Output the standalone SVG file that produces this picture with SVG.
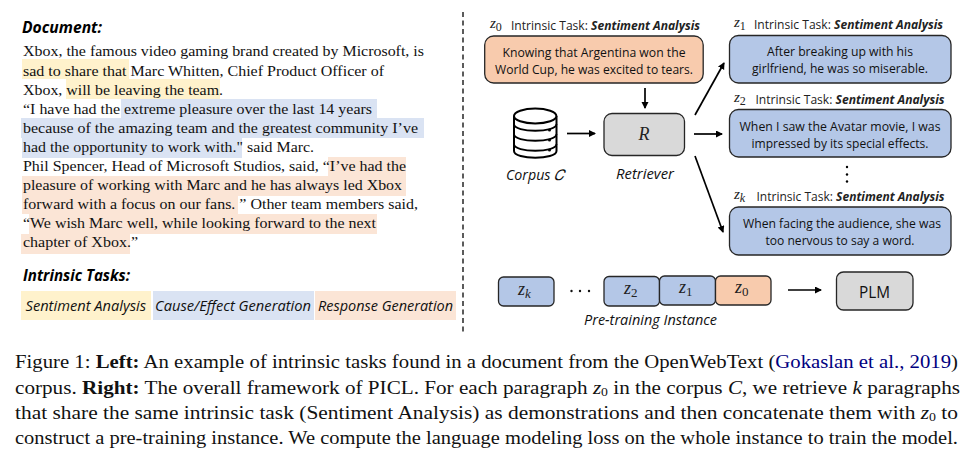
<svg xmlns="http://www.w3.org/2000/svg" width="972" height="460" viewBox="0 0 972 460">
<style>
.bg{fill:#fff}
.y{fill:#fff2cc}.b{fill:#dae3f3}.o{fill:#fbe5d6}
.doc{font:15.2px "Liberation Serif",serif;fill:#111}
.cap{font:18.5px "Liberation Serif",serif;fill:#111}
.h{font:italic 700 15.5px "Open Sans",sans-serif;fill:#000}
.task{font:italic 14px "Open Sans",sans-serif;fill:#111}
.lab{font:13px "Open Sans",sans-serif;fill:#222}
.body{font:13px "Open Sans",sans-serif;fill:#111;text-anchor:middle}
.it{font:italic 14.5px "Open Sans",sans-serif;fill:#111}
.m{font-family:"Liberation Serif",serif;font-style:italic;fill:#222}
.box{stroke:#262626;stroke-width:1.3}
.fo{fill:#f8cbad}.fb{fill:#b4c7e7}.fg{fill:#d9d9d9}
.arr{stroke:#000;stroke-width:1.7;fill:none;marker-end:url(#ah)}
.db{fill:#fff;stroke:#000;stroke-width:2}
</style>
<defs><marker id="ah" markerWidth="8" markerHeight="8" refX="6" refY="3.5" orient="auto" markerUnits="userSpaceOnUse"><path d="M0 0L7 3.5L0 7Z" fill="#000"/></marker></defs>
<rect class="bg" width="972" height="460"/>
<g id="document">
<text class="h" x="22" y="33" textLength="80" lengthAdjust="spacingAndGlyphs">Document:</text>
<rect class="y" x="22" y="59" width="107" height="20"/><rect class="y" x="66" y="79" width="154" height="20"/>
<rect class="b" x="121" y="99" width="256" height="19"/><rect class="b" x="21" y="118" width="403" height="20"/><rect class="b" x="22" y="138" width="220" height="20"/>
<rect class="o" x="328" y="157" width="78" height="19"/><rect class="o" x="22" y="176" width="384" height="20"/><rect class="o" x="22" y="196" width="216" height="18"/><rect class="o" x="29" y="214" width="348" height="20"/><rect class="o" x="21" y="234" width="109" height="20"/>
<text class="doc" x="23" y="56" textLength="401" lengthAdjust="spacingAndGlyphs">Xbox, the famous video gaming brand created by Microsoft, is</text>
<text class="doc" x="23" y="76" textLength="361" lengthAdjust="spacingAndGlyphs">sad to share that Marc Whitten, Chief Product Officer of</text>
<text class="doc" x="23" y="95" textLength="200" lengthAdjust="spacingAndGlyphs">Xbox, will be leaving the team.</text>
<text class="doc" x="23" y="114" textLength="349" lengthAdjust="spacingAndGlyphs">“I have had the extreme pleasure over the last 14 years</text>
<text class="doc" x="23" y="133" textLength="395" lengthAdjust="spacingAndGlyphs">because of the amazing team and the greatest community I’ve</text>
<text class="doc" x="23" y="152" textLength="291" lengthAdjust="spacingAndGlyphs">had the opportunity to work with." said Marc.</text>
<text class="doc" x="23" y="171" textLength="383" lengthAdjust="spacingAndGlyphs">Phil Spencer, Head of Microsoft Studios, said, “I’ve had the</text>
<text class="doc" x="23" y="190" textLength="379" lengthAdjust="spacingAndGlyphs">pleasure of working with Marc and he has always led Xbox</text>
<text class="doc" x="23" y="209" textLength="395" lengthAdjust="spacingAndGlyphs">forward with a focus on our fans. ” Other team members said,</text>
<text class="doc" x="23" y="228" textLength="353" lengthAdjust="spacingAndGlyphs">“We wish Marc well, while looking forward to the next</text>
<text class="doc" x="23" y="247" textLength="115" lengthAdjust="spacingAndGlyphs">chapter of Xbox.”</text>
</g>
<g id="tasks">
<text class="h" x="23" y="281" textLength="107" lengthAdjust="spacingAndGlyphs">Intrinsic Tasks:</text>
<rect class="y" x="21" y="291" width="130" height="29"/><rect class="b" x="153" y="291" width="161" height="29"/><rect class="o" x="315" y="291" width="141" height="29"/>
<text class="task" x="25.5" y="311" textLength="120.5" lengthAdjust="spacingAndGlyphs">Sentiment Analysis</text>
<text class="task" x="155" y="311" textLength="156" lengthAdjust="spacingAndGlyphs">Cause/Effect Generation</text>
<text class="task" x="318" y="311" textLength="135" lengthAdjust="spacingAndGlyphs">Response Generation</text>
</g>
<path id="divider" d="M463 12V332" stroke="#333" stroke-width="1.6" stroke-dasharray="5 3.5" fill="none"/>
<g id="connectors">
<path class="arr" d="M645 88V108"/>
<path class="arr" d="M567 133.5H595"/>
<path class="arr" d="M695 115L724 63"/>
<path class="arr" d="M694 134H722"/>
<path class="arr" d="M695 156L723 232"/>
<path class="arr" d="M788 290H821"/>
</g>
<g id="z0">
<text class="m" x="490" y="28" font-size="15">z<tspan font-size="12" dy="2.5" font-style="normal">0</tspan></text>
<text class="lab" x="511" y="30" textLength="189" lengthAdjust="spacingAndGlyphs">Intrinsic Task: <tspan font-weight="700" font-style="italic">Sentiment Analysis</tspan></text>
<rect class="box fo" x="484.7" y="36" width="218.5" height="47" rx="9"/>
<text class="body" x="594" y="56.5" textLength="183" lengthAdjust="spacingAndGlyphs">Knowing that Argentina won the</text>
<text class="body" x="594" y="73.5" textLength="198" lengthAdjust="spacingAndGlyphs">World Cup, he was excited to tears.</text>
</g>
<g id="z1">
<text class="m" x="734" y="27" font-size="15">z<tspan font-size="12" dy="2.5" font-style="normal">1</tspan></text>
<text class="lab" x="754" y="29" textLength="189" lengthAdjust="spacingAndGlyphs">Intrinsic Task: <tspan font-weight="700" font-style="italic">Sentiment Analysis</tspan></text>
<rect class="box fb" x="729.5" y="35.5" width="221.5" height="47.5" rx="9"/>
<text class="body" x="840" y="55.5" textLength="146" lengthAdjust="spacingAndGlyphs">After breaking up with his</text>
<text class="body" x="840" y="72.5" textLength="176" lengthAdjust="spacingAndGlyphs">girlfriend, he was so miserable.</text>
</g>
<g id="z2">
<text class="m" x="734" y="102" font-size="15">z<tspan font-size="12" dy="2.5" font-style="normal">2</tspan></text>
<text class="lab" x="755.5" y="104" textLength="189" lengthAdjust="spacingAndGlyphs">Intrinsic Task: <tspan font-weight="700" font-style="italic">Sentiment Analysis</tspan></text>
<rect class="box fb" x="729.5" y="109.5" width="221.5" height="47.5" rx="9"/>
<text class="body" x="840" y="130.5" textLength="201" lengthAdjust="spacingAndGlyphs">When I saw the Avatar movie, I was</text>
<text class="body" x="840" y="147.5" textLength="177" lengthAdjust="spacingAndGlyphs">impressed by its special effects.</text>
</g>
<g id="ellipsis-v"><circle cx="847" cy="167" r="1.2"/><circle cx="847" cy="174.5" r="1.2"/><circle cx="847" cy="181.5" r="1.2"/></g>
<g id="zk">
<text class="m" x="734" y="199" font-size="15">z<tspan font-size="12" dy="2.5">k</tspan></text>
<text class="lab" x="756.5" y="201" textLength="188" lengthAdjust="spacingAndGlyphs">Intrinsic Task: <tspan font-weight="700" font-style="italic">Sentiment Analysis</tspan></text>
<rect class="box fb" x="729.5" y="207" width="221.5" height="48" rx="9"/>
<text class="body" x="842" y="227.5" textLength="198" lengthAdjust="spacingAndGlyphs">When facing the audience, she was</text>
<text class="body" x="840" y="244.5" textLength="149" lengthAdjust="spacingAndGlyphs">too nervous to say a word.</text>
</g>
<g id="corpus">
<path class="db" d="M514 116V151C514 160 556.5 160 556.5 151V116"/>
<ellipse class="db" cx="535.2" cy="116" rx="21.2" ry="7.5"/>
<path d="M514 124C514 133 556.5 133 556.5 124M514 134C514 143 556.5 143 556.5 134M514 144C514 153 556.5 153 556.5 144" fill="none" stroke="#000" stroke-width="1.8"/>
<circle cx="549.5" cy="130" r="1.5"/><circle cx="549.5" cy="140" r="1.5"/><circle cx="549.5" cy="150" r="1.5"/>
<text class="it" x="506" y="180" textLength="58" lengthAdjust="spacingAndGlyphs">Corpus 𝐶</text>
</g>
<g id="retriever">
<rect class="box fg" x="604" y="113.5" width="80.5" height="42" rx="8"/>
<text class="m" x="644" y="140" font-size="18" text-anchor="middle">R</text>
<text class="it" x="616" y="179" textLength="58" lengthAdjust="spacingAndGlyphs">Retriever</text>
</g>
<g id="instance">
<rect class="box fb" x="498.5" y="277" width="55.5" height="29" rx="5"/>
<text class="m" x="518" y="295" font-size="18">z<tspan font-size="13" dy="3">k</tspan></text>
<g fill="#111"><circle cx="571.5" cy="291" r="1.2"/><circle cx="580" cy="291" r="1.2"/><circle cx="589" cy="291" r="1.2"/></g>
<rect class="box fb" x="604" y="276.5" width="55.5" height="29.5" rx="5"/>
<text class="m" x="624" y="294" font-size="18">z<tspan font-size="13" dy="3" font-style="normal">2</tspan></text>
<rect class="box fb" x="659.5" y="276" width="56" height="29" rx="5"/>
<text class="m" x="679" y="293" font-size="18">z<tspan font-size="13" dy="3" font-style="normal">1</tspan></text>
<rect class="box fo" x="715.5" y="276" width="55.5" height="29" rx="5"/>
<text class="m" x="735" y="293" font-size="18">z<tspan font-size="13" dy="3" font-style="normal">0</tspan></text>
<text class="it" x="584" y="325" textLength="133" lengthAdjust="spacingAndGlyphs">Pre-training Instance</text>
</g>
<g id="plm">
<rect class="box fg" x="836.5" y="272" width="76.5" height="38" rx="7"/>
<text x="874.5" y="298" text-anchor="middle" font-family="Open Sans, sans-serif" font-size="17" textLength="31" lengthAdjust="spacingAndGlyphs" fill="#111">PLM</text>
</g>
<g id="caption">
<text class="cap" x="15" y="368" textLength="943" lengthAdjust="spacingAndGlyphs">Figure 1: <tspan font-weight="700">Left:</tspan> An example of intrinsic tasks found in a document from the OpenWebText (<tspan fill="#00007f">Gokaslan et al., 2019</tspan>)</text>
<text class="cap" x="15" y="394" textLength="945" lengthAdjust="spacingAndGlyphs">corpus. <tspan font-weight="700">Right:</tspan> The overall framework of PICL. For each paragraph <tspan font-style="italic">z</tspan><tspan font-size="12" dy="2">0</tspan><tspan dy="-2"> in the corpus </tspan><tspan font-style="italic">C</tspan>, we retrieve <tspan font-style="italic">k</tspan> paragraphs</text>
<text class="cap" x="15" y="419" textLength="943" lengthAdjust="spacingAndGlyphs">that share the same intrinsic task (Sentiment Analysis) as demonstrations and then concatenate them with <tspan font-style="italic">z</tspan><tspan font-size="12" dy="2">0</tspan><tspan dy="-2"> to</tspan></text>
<text class="cap" x="15" y="444" textLength="943" lengthAdjust="spacingAndGlyphs">construct a pre-training instance. We compute the language modeling loss on the whole instance to train the model.</text>
</g>
</svg>
